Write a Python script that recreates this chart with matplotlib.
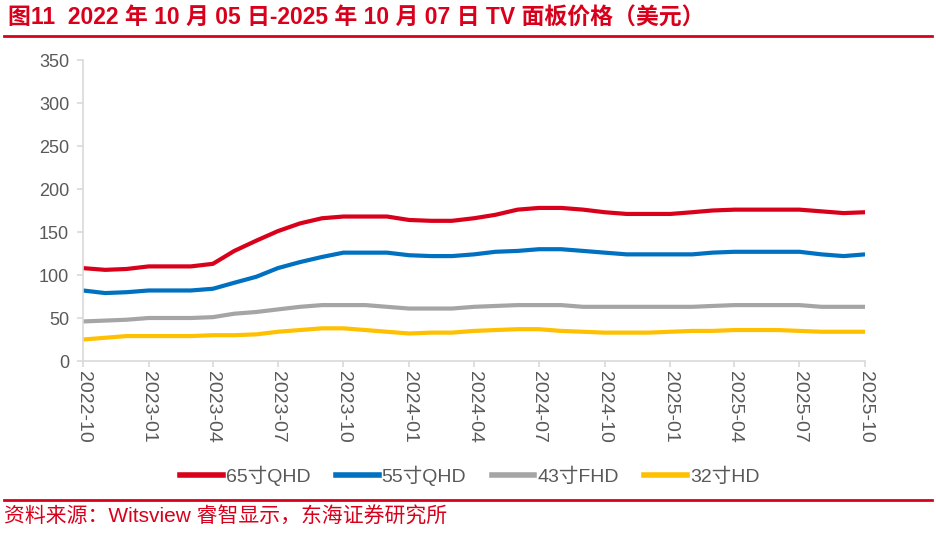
import matplotlib
matplotlib.use("Agg")
import matplotlib.pyplot as plt
import matplotlib.dates as mdates
import pandas as pd
from matplotlib.lines import Line2D

plt.rcParams['font.family'] = ['Liberation Sans', 'Noto Sans CJK SC', 'DejaVu Sans']

dates = pd.date_range("2022-10-01", "2025-10-01", freq="MS")
s65 = [108, 106, 107, 110, 110, 110, 113, 128, 140, 151, 160, 166, 168, 168, 168, 164, 163, 163, 166,
       170, 176, 178, 178, 176, 173, 171, 171, 171, 173, 175, 176, 176, 176, 176, 174, 172, 173]
s55 = [82, 79, 80, 82, 82, 82, 84, 91, 98, 108, 115, 121, 126, 126, 126, 123, 122, 122, 124,
       127, 128, 130, 130, 128, 126, 124, 124, 124, 124, 126, 127, 127, 127, 127, 124, 122, 124]
s43 = [46, 47, 48, 50, 50, 50, 51, 55, 57, 60, 63, 65, 65, 65, 63, 61, 61, 61, 63,
       64, 65, 65, 65, 63, 63, 63, 63, 63, 63, 64, 65, 65, 65, 65, 63, 63, 63]
s32 = [25, 27, 29, 29, 29, 29, 30, 30, 31, 34, 36, 38, 38, 36, 34, 32, 33, 33, 35,
       36, 37, 37, 35, 34, 33, 33, 33, 34, 35, 35, 36, 36, 36, 35, 34, 34, 34]
labels = ["65寸QHD", "55寸QHD", "43寸FHD", "32寸HD"]
colors = ["#D9001B", "#0070C0", "#A5A5A5", "#FFC000"]
yticks = [0, 50, 100, 150, 200, 250, 300, 350]

fig = plt.figure(figsize=(9.36, 5.33), dpi=100)
ax = fig.add_axes([0.0887, 0.3227, 0.8355, 0.5647])

for s, lab, c in zip([s65, s55, s43, s32], labels, colors):
    ax.plot(dates, s, color=c, lw=3.0, label=lab, solid_capstyle='butt')

ax.set_ylim(0, 350)
ax.set_yticks(yticks)
ax.set_xlim(pd.Timestamp("2022-10-01"), pd.Timestamp("2025-10-01"))
ax.xaxis.set_major_locator(mdates.MonthLocator(bymonth=[1, 4, 7, 10]))
ax.xaxis.set_major_formatter(mdates.DateFormatter("%Y-%m"))

for sp in ["top", "right"]:
    ax.spines[sp].set_visible(False)
for sp in ["left", "bottom"]:
    ax.spines[sp].set_color("#D9D9D9")
    ax.spines[sp].set_linewidth(1.2)
ax.tick_params(axis='both', colors="#D9D9D9", labelcolor="#595959", labelsize=13, length=4, width=1.2)
ax.tick_params(axis='y', pad=6)
ax.tick_params(axis='x', labelsize=14)
plt.setp(ax.get_xticklabels(), rotation=270, ha='center', va='top')

handles = [Line2D([0], [0], color=c, lw=4) for c in colors]
fig.legend(handles, labels, loc='center', bbox_to_anchor=(0.502, 1 - 476 / 533), ncol=4, frameon=False,
           fontsize=14, handlelength=2.2, handletextpad=0.15, columnspacing=1.3,
           labelcolor="#595959")

fig.text(8 / 936, 1 - 18 / 533, "图11  2022 年 10 月 05 日-2025 年 10 月 07 日 TV 面板价格（美元）",
         color="#D9001B", fontsize=16.5, fontweight='bold', va='center', ha='left')
fig.add_artist(Line2D([4 / 936, 932 / 936], [1 - 36 / 533, 1 - 36 / 533], color="#D9001B", lw=2,
                      transform=fig.transFigure))
fig.add_artist(Line2D([4 / 936, 932 / 936], [1 - 500 / 533, 1 - 500 / 533], color="#D9001B", lw=2,
                      transform=fig.transFigure))
fig.text(4 / 936, 1 - 517 / 533, "资料来源：Witsview 睿智显示，东海证券研究所",
         color="#D9001B", fontsize=15, va='center', ha='left')

fig.savefig("out.png", dpi=100)
